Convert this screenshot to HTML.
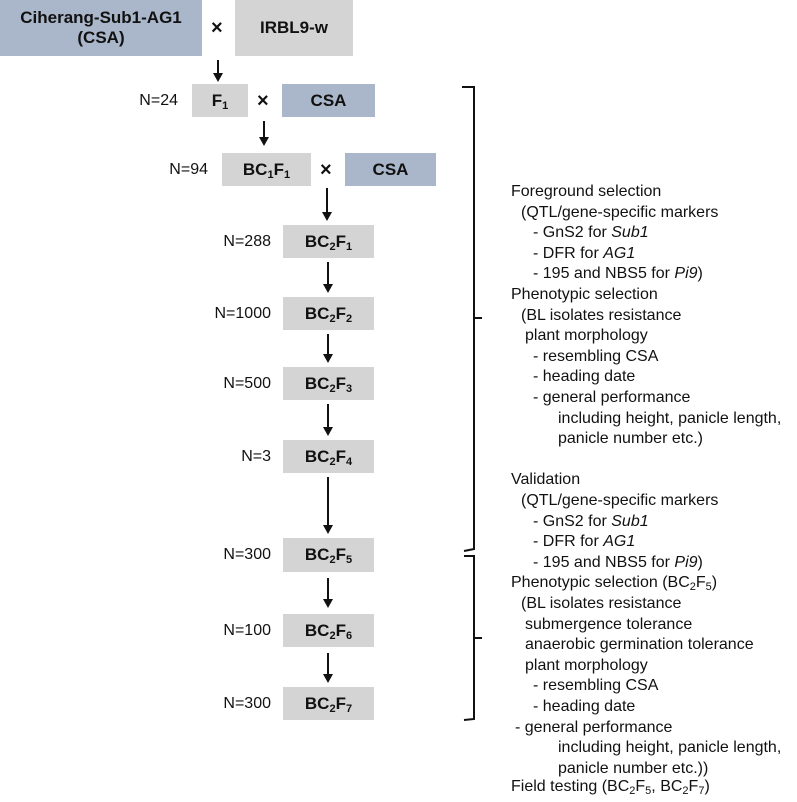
<!DOCTYPE html>
<html><head><meta charset="utf-8"><style>
body{margin:0;width:797px;height:802px;background:#fff;position:relative;overflow:hidden;font-family:"Liberation Sans",Arial,sans-serif;color:#111}
.b{position:absolute;display:flex;align-items:center;justify-content:center;font-weight:bold;font-size:17px;text-align:center;line-height:20px}
.g{background:#d4d4d4}.bl{background:#aab6c9}
.n{position:absolute;font-size:16px;text-align:right;width:80px;line-height:20px}
.x{position:absolute;font-weight:bold;font-size:20px;line-height:20px}
.t{position:absolute;font-size:16px;line-height:20px;white-space:nowrap}
sub{font-size:11px;vertical-align:-3px;line-height:0}
</style></head><body>
<div class="b bl" style="left:0;top:0;width:202px;height:56px"><span>Ciherang-Sub1-AG1<br>(CSA)</span></div>
<div class="x" style="left:211px;top:18px">×</div>
<div class="b g" style="left:235px;top:0;width:118px;height:56px"><span>IRBL9-w</span></div>

<div class="n" style="left:98px;top:91px">N=24</div>
<div class="b g" style="left:192px;top:84px;width:56px;height:33px"><span>F<sub>1</sub></span></div>
<div class="x" style="left:257px;top:91px">×</div>
<div class="b bl" style="left:282px;top:84px;width:93px;height:33px"><span>CSA</span></div>

<div class="n" style="left:128px;top:160px">N=94</div>
<div class="b g" style="left:222px;top:153px;width:89px;height:33px"><span>BC<sub>1</sub>F<sub>1</sub></span></div>
<div class="x" style="left:320px;top:160px">×</div>
<div class="b bl" style="left:345px;top:153px;width:91px;height:33px"><span>CSA</span></div>

<div class="n" style="left:191px;top:232px">N=288</div>
<div class="b g" style="left:283px;top:225px;width:91px;height:33px"><span>BC<sub>2</sub>F<sub>1</sub></span></div>
<div class="n" style="left:191px;top:304px">N=1000</div>
<div class="b g" style="left:283px;top:297px;width:91px;height:33px"><span>BC<sub>2</sub>F<sub>2</sub></span></div>
<div class="n" style="left:191px;top:374px">N=500</div>
<div class="b g" style="left:283px;top:367px;width:91px;height:33px"><span>BC<sub>2</sub>F<sub>3</sub></span></div>
<div class="n" style="left:191px;top:447px">N=3</div>
<div class="b g" style="left:283px;top:440px;width:91px;height:33px"><span>BC<sub>2</sub>F<sub>4</sub></span></div>
<div class="n" style="left:191px;top:545px">N=300</div>
<div class="b g" style="left:283px;top:538px;width:91px;height:34px"><span>BC<sub>2</sub>F<sub>5</sub></span></div>
<div class="n" style="left:191px;top:621px">N=100</div>
<div class="b g" style="left:283px;top:614px;width:91px;height:33px"><span>BC<sub>2</sub>F<sub>6</sub></span></div>
<div class="n" style="left:191px;top:694px">N=300</div>
<div class="b g" style="left:283px;top:687px;width:91px;height:33px"><span>BC<sub>2</sub>F<sub>7</sub></span></div>

<svg width="797" height="802" style="position:absolute;left:0;top:0" xmlns="http://www.w3.org/2000/svg">
<g stroke="#111" stroke-width="2" fill="none">
<line x1="218" y1="60" x2="218" y2="74"/>
<line x1="264" y1="121" x2="264" y2="138"/>
<line x1="327" y1="188" x2="327" y2="213"/>
<line x1="328" y1="262" x2="328" y2="285"/>
<line x1="328" y1="334" x2="328" y2="355"/>
<line x1="328" y1="404" x2="328" y2="428"/>
<line x1="328" y1="477" x2="328" y2="526"/>
<line x1="328" y1="578" x2="328" y2="600"/>
<line x1="328" y1="653" x2="328" y2="675"/>
<path d="M462,87 L474,87 L474,549 L464,551"/>
<line x1="474" y1="318" x2="482" y2="318"/>
<path d="M464,556 L474,556 L474,719 L464,720"/>
<line x1="474" y1="638" x2="482" y2="638"/>
</g>
<g fill="#111">
<polygon points="213,73 223,73 218,82"/>
<polygon points="259,137 269,137 264,146"/>
<polygon points="322,212 332,212 327,221"/>
<polygon points="323,284 333,284 328,293"/>
<polygon points="323,354 333,354 328,363"/>
<polygon points="323,427 333,427 328,436"/>
<polygon points="323,525 333,525 328,534"/>
<polygon points="323,599 333,599 328,608"/>
<polygon points="323,674 333,674 328,683"/>
</g></svg>

<div class="t" style="left:511px;top:182px">Foreground selection</div>
<div class="t" style="left:521px;top:203px">(QTL/gene-specific markers</div>
<div class="t" style="left:533px;top:223px">- GnS2 for <i>Sub1</i></div>
<div class="t" style="left:533px;top:244px">- DFR for <i>AG1</i></div>
<div class="t" style="left:533px;top:264px">- 195 and NBS5 for <i>Pi9</i>)</div>
<div class="t" style="left:511px;top:285px">Phenotypic selection</div>
<div class="t" style="left:521px;top:306px">(BL isolates resistance</div>
<div class="t" style="left:525px;top:326px">plant morphology</div>
<div class="t" style="left:533px;top:347px">- resembling CSA</div>
<div class="t" style="left:533px;top:367px">- heading date</div>
<div class="t" style="left:533px;top:388px">- general performance</div>
<div class="t" style="left:558px;top:409px">including height, panicle length,</div>
<div class="t" style="left:558px;top:429px">panicle number etc.)</div>
<div class="t" style="left:511px;top:470px">Validation</div>
<div class="t" style="left:521px;top:491px">(QTL/gene-specific markers</div>
<div class="t" style="left:533px;top:512px">- GnS2 for <i>Sub1</i></div>
<div class="t" style="left:533px;top:532px">- DFR for <i>AG1</i></div>
<div class="t" style="left:533px;top:553px">- 195 and NBS5 for <i>Pi9</i>)</div>
<div class="t" style="left:511px;top:573px">Phenotypic selection (BC<sub>2</sub>F<sub>5</sub>)</div>
<div class="t" style="left:521px;top:594px">(BL isolates resistance</div>
<div class="t" style="left:525px;top:615px">submergence tolerance</div>
<div class="t" style="left:525px;top:635px">anaerobic germination tolerance</div>
<div class="t" style="left:525px;top:656px">plant morphology</div>
<div class="t" style="left:533px;top:676px">- resembling CSA</div>
<div class="t" style="left:533px;top:697px">- heading date</div>
<div class="t" style="left:515px;top:718px">- general performance</div>
<div class="t" style="left:558px;top:738px">including height, panicle length,</div>
<div class="t" style="left:558px;top:759px">panicle number etc.))</div>
<div class="t" style="left:511px;top:777px">Field testing (BC<sub>2</sub>F<sub>5</sub>, BC<sub>2</sub>F<sub>7</sub>)</div>
</body></html>
